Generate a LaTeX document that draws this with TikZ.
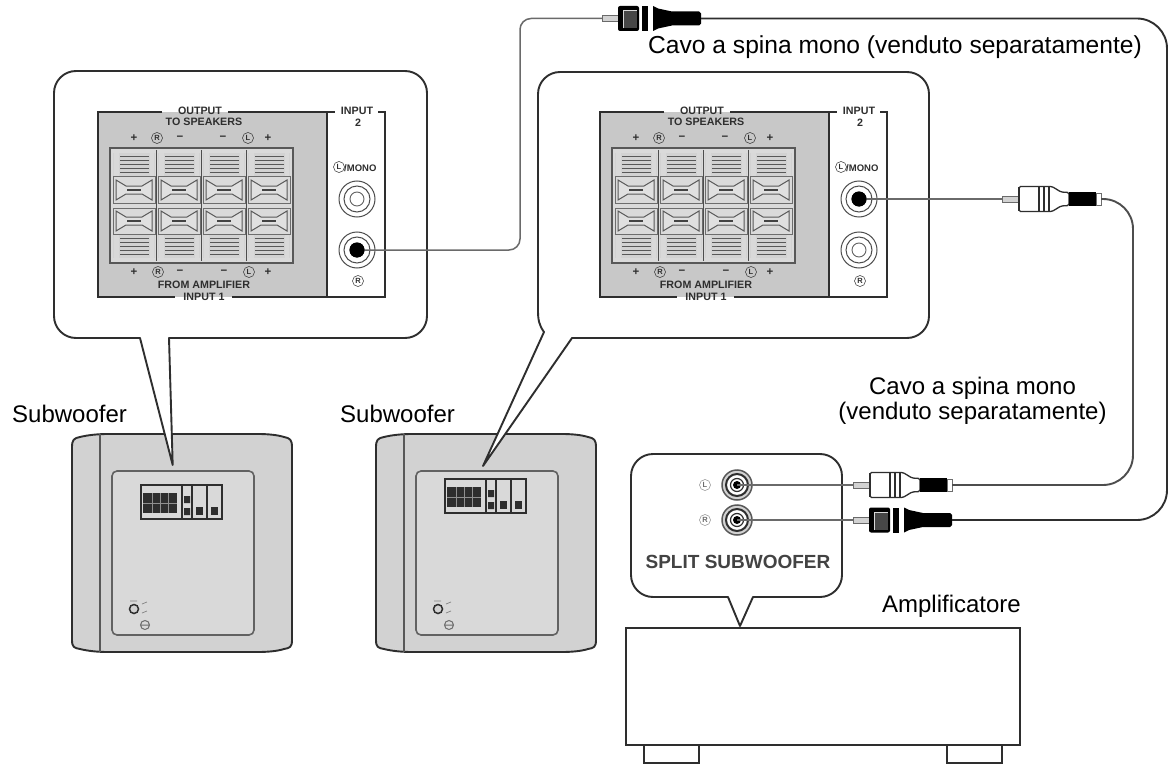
\documentclass[tikz,border=0pt]{standalone}
\usepackage{fontspec}
\setmainfont{Liberation Sans}
\definecolor{ink}{HTML}{2E2E2E}
\definecolor{panelgrey}{HTML}{C8C8C8}
\definecolor{cellgrey}{HTML}{DADADA}
\definecolor{wiregrey}{HTML}{6A6A6A}
\definecolor{softgrey}{HTML}{D2D2D2}
\tikzset{
  callout/.style={draw=ink,line width=1.9pt,fill=white,line join=round},
  caption/.style={font=\fontsize{24}{27}\selectfont,anchor=base,text=black,inner sep=0pt},
  ptext/.style={font=\fontsize{10.7}{11}\selectfont\bfseries,text=ink,inner sep=0pt},
  pmark/.style={font=\fontsize{11.5}{11}\selectfont\bfseries,text=ink,inner sep=0pt},
  cletter/.style={circle,draw=ink,line width=.5pt,inner sep=0pt,minimum size=11pt,font=\fontsize{7.5}{8}\selectfont\bfseries,text=ink},
  cable/.style={draw=#1,line width=1.9pt,rounded corners=30pt},
  thinwire/.style={draw=wiregrey,line width=1.5pt},
  frameline/.style={draw=ink,line width=1.1pt},
  unit/.style={draw=ink,line width=2pt,fill=white},
}
% ---- one RCA jack
\newcommand{\jackmark}[4]{% name x y filled
  \coordinate (#1) at (#2,#3);
  \foreach \rr in {18,13}{\draw[ink!85,line width=1pt] (#1) circle (\rr);}
  \ifnum#4=1 \fill[black] (#1) circle (7.5);\else \draw[ink!75,line width=.9pt] (#1) circle (7);\fi
}
% ---- connection panel
\newcommand{\connpanel}[3]{% name xshift filled-upper(1)/lower(0)
\begin{scope}[xshift=#2]
  \fill[panelgrey] (98,112) rectangle (327,297);
  \draw[frameline] (327,112) -- (327,297);
  \draw[frameline] (162,112) -- (98,112) -- (98,297) -- (175,297);
  \draw[frameline] (232,297) -- (385,297) -- (385,112) -- (378,112);
  \draw[frameline] (228,112) -- (335,112);
  \node[ptext] (#1out) at (200,110.5) {OUTPUT};
  \node[ptext] (#1spk) at (204,122) {TO SPEAKERS};
  \node[ptext] (#1inb) at (357,110.5) {INPUT};
  \node[ptext] (#1two) at (358,123) {2};
  \node[ptext] (#1amp) at (204,285) {FROM AMPLIFIER};
  \node[ptext] (#1ina) at (204,297) {INPUT 1};
  \node[cletter] (#1ml) at (339,167) {L};
  \node[ptext,font=\fontsize{9.5}{10}\selectfont\bfseries,anchor=west] (#1mono) at (344,168) {/MONO};
  \node[cletter] (#1mr) at (358,281) {R};
  \foreach \px/\py/\pn/\pt in {134/138/a/+,180/138/b/−,223/138/c/−,268/138/d/+,134/272/e/+,180/272/f/−,224/272/g/−,268/272/h/+}{
    \node[pmark] (#1p\pn) at (\px,\py) {\pt};
  }
  \node[cletter] (#1tr) at (157,138) {R};
  \node[cletter] (#1tl) at (248,138) {L};
  \node[cletter] (#1br) at (158,272) {R};
  \node[cletter] (#1bl) at (249,272) {L};
  % terminal block
  \draw[fill=cellgrey,draw=ink!80,line width=1.2pt] (110,148) rectangle (293,263);
  \foreach \cx in {113,158,203,248}{
    % slots top and bottom
    \foreach \sy in {153,235}{
      \fill[softgrey] (\cx,\sy) rectangle ++(42,23);
      \foreach \ly in {3,7,11,15,19}{\draw[ink!80,line width=.9pt] (\cx+7,\sy+\ly) -- (\cx+36,\sy+\ly);}
      \fill[white!85!black] (\cx+1,\sy) rectangle ++(5,23);
      \fill[white!85!black] (\cx+37,\sy) rectangle ++(4,23);
    }
    % binding posts
    \foreach \sy in {177,208}{
      \draw[ink!70,line width=1pt,fill=cellgrey] (\cx,\sy) rectangle ++(42,26);
      \draw[ink!80,line width=1pt,fill=white!88!black] (\cx+3,\sy+3) -- (\cx+13,\sy+9) -- (\cx+29,\sy+9) -- (\cx+39,\sy+3) -- (\cx+39,\sy+23) -- (\cx+29,\sy+17) -- (\cx+13,\sy+17) -- (\cx+3,\sy+23) -- cycle;
      \draw[ink!90,line width=1.1pt] (\cx+14,\sy+13) -- (\cx+28,\sy+13);
    }
  }
  \foreach \dx in {156.5,201.5,246.5}{\draw[ink!85,line width=1.3pt] (\dx,150) -- (\dx,261);}
  % jacks
  \jackmark{#1jk}{357}{199}{#3}
  \jackmark{#1jl}{357}{250}{\numexpr1-#3\relax}
\end{scope}}
% ---- subwoofer
\newcommand{\subwoofer}[3]{% name xshift minipanel-dy
\begin{scope}[xshift=#2]
  \draw[draw=ink,line width=1.9pt,fill=softgrey,line join=round]
    (72,447) .. controls (72,440) and (74,438) .. (80,437) .. controls (88,435) and (98,434) .. (108,434) -- (258,434)
    .. controls (268,434) and (278,435) .. (284,437) .. controls (290,438) and (292,440) .. (292,447) -- (292,640)
    .. controls (292,647) and (290,648) .. (284,649) .. controls (278,651) and (268,652) .. (258,652) -- (108,652)
    .. controls (98,652) and (88,651) .. (80,649) .. controls (74,648) and (72,647) .. (72,640) -- cycle;
  \draw[ink!80,line width=1.3pt] (100,434) -- (100,652);
  \draw[draw=ink!75,line width=1.6pt,fill=softgrey!85!white,rounded corners=5pt] (112,471) rectangle (254,635);
  \begin{scope}[yshift=#3]
    \draw[ink,line width=1.1pt] (141,485) rectangle (222,519);
    \draw[ink,line width=1.1pt] (182,485) -- (182,519) (192,485) -- (192,519) (207,485) -- (207,519);
    \fill[ink] (143,493) rectangle (177,513);
    \foreach \gx in {152,160,168}{\draw[softgrey!60!ink,line width=.7pt] (\gx,493) -- (\gx,513);}
    \draw[softgrey!60!ink,line width=.7pt] (143,503) -- (177,503);
    \fill[ink] (184,496) rectangle (190,503) (184,508) rectangle (190,515);
    \fill[ink] (196,507) rectangle (203,515);
    \fill[ink] (211,507) rectangle (218,515);
  \end{scope}
  \draw[ink,line width=1.5pt,fill=softgrey] (134,609) circle (4.5);
  \draw[ink!70,line width=1pt] (145,625) circle (4.5) (141,625) -- (149,625);
  \draw[ink!60,line width=.7pt] (130,601) -- (137,601) (142,604) -- (147,602) (142,613) -- (147,611);
\end{scope}}
% ---- plugs: origin at tip
\newcommand{\whiteplug}[3]{% name x y
\begin{scope}[shift={(#2,#3)}]
  \coordinate (#1tip) at (0,0); \coordinate (#1end) at (99,0);
  \draw[wiregrey,fill=softgrey,line width=.9pt] (0,-3) rectangle (17,3);
  \draw[ink,line width=1.3pt,fill=white,rounded corners=1.5pt] (17,-12.5) -- (50,-12.5) -- (59,-7) -- (67,-6.5) -- (67,6.5) -- (59,7) -- (50,12.5) -- (17,12.5) -- cycle;
  \draw[ink,line width=2.2pt] (17,-12) -- (17,12);
  \foreach \sx in {37,42,47}{\draw[ink,line width=1.5pt] (\sx,-12.5) -- (\sx,12.5);}
  \fill[black] (67,-7) rectangle (94,7);
  \draw[ink!70,line width=.9pt,fill=white] (94,-6) rectangle (99,6);
\end{scope}}
\newcommand{\blackplug}[3]{%
\begin{scope}[shift={(#2,#3)}]
  \coordinate (#1tip) at (0,0); \coordinate (#1end) at (99,0);
  \draw[wiregrey,fill=softgrey,line width=.9pt] (0,-3) rectangle (17,3);
  \fill[black,rounded corners=2pt] (16,-12.5) rectangle (37,12.5);
  \fill[black!72] (21,-8) rectangle (35,10);
  \draw[white!85!black,line width=1pt] (21,10) -- (21,-8) -- (35,-8);
  \fill[black] (40,-12.5) rectangle (46,12.5);
  \fill[black] (51,-12.5) -- (56,-10) -- (70,-7) -- (97,-7) -- (99,-5) -- (99,5) -- (97,7) -- (70,7) -- (56,10) -- (51,12.5) -- cycle;
\end{scope}}
\begin{document}
\begin{tikzpicture}[x=1pt,y=-1pt]
  \useasboundingbox (0,0) rectangle (1173,773);
  \fill[white] (0,0) rectangle (1173,773);
  % units
  \subwoofer{subA}{0}{0}
  \subwoofer{subB}{304}{6}
  % callouts
  \draw[callout] (140,338) [rounded corners=22] -- (54,338) -- (54,71) -- (427,71) -- (427,338) [sharp corners] -- (169,338) -- (172.7,465) -- cycle;
  \draw[callout] (572,338) -- (483,466) -- (544,332) .. controls (539,325) and (538,320) .. (538,310) [rounded corners=22] -- (538,72) -- (929,72) -- (929,338) [sharp corners] -- cycle;
  \connpanel{pA}{0}{0}
  \connpanel{pB}{502}{1}
  % amplifier
  \draw[unit] (644,745) rectangle (699,763);
  \draw[unit] (947,745) rectangle (1002,763);
  \draw[unit] (626,628) rectangle (1020,745);
  \draw[callout] (728,597) [rounded corners=22] -- (631,597) -- (631,454) -- (842,454) -- (842,597) [sharp corners] -- (753,597) -- (740,626) -- cycle;
  \node[cletter,draw=ink!55,text=ink!70] (ampl) at (705,485) {L};
  \node[cletter,draw=ink!55,text=ink!70] (ampr) at (705,520) {R};
  \foreach \jn/\jy in {ampjl/485,ampjr/520}{
    \coordinate (\jn) at (737,\jy);
    \draw[ink!80,fill=softgrey,line width=1.5pt] (\jn) circle (15);
    \draw[ink,fill=white,line width=2pt] (\jn) circle (11);
    \draw[ink,line width=1.2pt] (\jn) circle (6.5);
    \fill[black] (\jn) circle (4);
  }
  \node[font=\fontsize{19}{22}\selectfont\bfseries,text=ink!90,inner sep=0pt] (split) at (738,562) {SPLIT SUBWOOFER};
  % plugs
  \blackplug{top}{602}{18.5}
  \whiteplug{mid}{1002}{199}
  \whiteplug{ampL}{853}{485}
  \blackplug{ampR}{853}{520}
  % connectors
  \draw[thinwire] (ampjl) -- (ampLtip);
  \draw[thinwire] (ampjr) -- (ampRtip);
  \draw[thinwire] (pBjk) -- (midtip);
  \draw[cable=ink!85] (midend) -- (1133,199) -- (1133,485) -- (ampLend);
  \draw[cable=ink] (topend) -- (1167,18.5) -- (1167,520) -- (ampRend);
  \draw[thinwire,rounded corners=11pt] (pAjl) -- (520,250) -- (520,18.5) -- (toptip);
  \fill[black] (pAjl) circle (7.5);
  \fill[black] (pBjk) circle (7.5);
  % captions
  \node[caption,anchor=base west] (capA) at (12,422) {Subwoofer};
  \node[caption,anchor=base west] (capB) at (340,422) {Subwoofer};
  \node[caption,anchor=base west,font=\fontsize{24.6}{27}\selectfont] (capC) at (648,54) {Cavo a spina mono (venduto separatamente)};
  \node[caption] (capD) at (972.5,394) {Cavo a spina mono};
  \node[caption] (capE) at (972.5,419) {(venduto separatamente)};
  \node[caption,anchor=base east] (capF) at (1021,612) {Amplificatore};
\end{tikzpicture}
\end{document}
